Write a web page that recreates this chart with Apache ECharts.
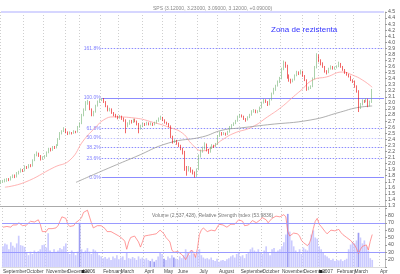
<!DOCTYPE html>
<html><head><meta charset="utf-8">
<script src="https://cdn.jsdelivr.net/npm/echarts@6.0.0/dist/echarts.min.js"></script>
<style>html,body{margin:0;padding:0;background:#fff}#c{width:400px;height:274px}</style>
</head><body><div id="c"></div>
<script>
// [open, close, low, high] — one candle per slot (about two trading days)
const ohlc = [
[1.69,1.70,1.67,1.72],[1.70,1.71,1.68,1.73],[1.71,1.72,1.69,1.75],[1.72,1.74,1.70,1.76],[1.75,1.73,1.71,1.76],
[1.73,1.77,1.72,1.79],[1.77,1.80,1.76,1.82],[1.81,1.78,1.76,1.82],[1.78,1.84,1.77,1.86],[1.84,1.86,1.82,1.88],
[1.86,1.90,1.85,1.92],[1.90,1.88,1.86,1.91],[1.88,1.95,1.87,1.97],[1.95,1.93,1.91,1.96],[1.93,1.97,1.92,1.99],
[1.98,1.96,1.94,1.99],[1.96,2.05,1.95,2.07],[2.05,2.14,2.04,2.16],[2.14,2.17,2.12,2.20],[2.17,2.13,2.11,2.18],
[2.13,2.08,2.05,2.14],[2.08,2.10,2.06,2.12],[2.10,2.12,2.08,2.14],[2.12,2.18,2.11,2.20],[2.18,2.24,2.17,2.26],
[2.24,2.22,2.20,2.26],[2.22,2.27,2.21,2.29],[2.27,2.26,2.24,2.29],[2.26,2.30,2.25,2.32],[2.30,2.40,2.29,2.42],
[2.40,2.50,2.39,2.52],[2.50,2.53,2.48,2.55],[2.53,2.57,2.52,2.60],[2.57,2.52,2.50,2.58],[2.52,2.49,2.47,2.53],
[2.49,2.51,2.48,2.53],[2.51,2.50,2.48,2.52],[2.50,2.53,2.49,2.55],[2.53,2.52,2.50,2.54],[2.52,2.60,2.51,2.62],
[2.60,2.66,2.59,2.68],[2.66,2.80,2.65,2.82],[2.80,2.88,2.78,2.91],[2.88,3.00,2.87,3.03],[3.00,3.02,2.97,3.05],
[3.02,2.90,2.88,3.03],[2.90,2.80,2.78,2.91],[2.80,2.85,2.78,2.87],[2.85,2.95,2.84,2.97],[2.95,3.02,2.94,3.04],
[3.02,3.05,3.00,3.07],[3.05,3.07,3.03,3.08],[3.07,3.02,3.00,3.08],[3.02,2.95,2.93,3.03],[2.95,2.88,2.86,2.96],
[2.88,2.90,2.86,2.92],[2.90,2.84,2.82,2.91],[2.84,2.80,2.78,2.85],[2.80,2.78,2.76,2.82],[2.78,2.76,2.73,2.79],
[2.76,2.78,2.74,2.80],[2.78,2.74,2.72,2.79],[2.74,2.72,2.69,2.76],[2.72,2.62,2.50,2.73],[2.62,2.66,2.60,2.68],
[2.66,2.70,2.64,2.72],[2.70,2.68,2.66,2.72],[2.68,2.72,2.67,2.74],[2.72,2.70,2.68,2.74],[2.70,2.66,2.63,2.71],
[2.66,2.58,2.50,2.67],[2.58,2.62,2.56,2.64],[2.62,2.66,2.60,2.68],[2.66,2.64,2.62,2.67],[2.64,2.67,2.63,2.69],
[2.67,2.65,2.63,2.68],[2.65,2.66,2.63,2.68],[2.66,2.64,2.62,2.67],[2.64,2.67,2.63,2.69],[2.67,2.70,2.66,2.72],
[2.70,2.74,2.69,2.76],[2.74,2.76,2.72,2.79],[2.76,2.72,2.70,2.77],[2.72,2.68,2.66,2.73],[2.68,2.66,2.64,2.69],
[2.66,2.62,2.60,2.67],[2.62,2.45,2.42,2.63],[2.45,2.36,2.33,2.46],[2.36,2.38,2.34,2.40],[2.38,2.34,2.31,2.39],
[2.34,2.30,2.27,2.35],[2.30,2.25,2.22,2.31],[2.25,2.20,2.15,2.26],[2.20,1.95,1.88,2.21],[1.95,1.90,1.80,1.96],
[1.90,1.93,1.87,1.96],[1.93,1.88,1.85,1.94],[1.88,1.85,1.82,1.90],[1.85,1.80,1.77,1.87],[1.80,1.90,1.78,1.92],
[1.90,2.12,1.89,2.15],[2.12,2.20,2.10,2.23],[2.20,2.25,2.18,2.28],[2.25,2.32,2.23,2.35],[2.32,2.22,2.20,2.33],
[2.22,2.20,2.16,2.24],[2.20,2.26,2.18,2.28],[2.26,2.30,2.24,2.32],[2.30,2.28,2.26,2.31],[2.28,2.32,2.27,2.34],
[2.32,2.45,2.31,2.47],[2.45,2.50,2.44,2.53],[2.50,2.48,2.46,2.52],[2.48,2.50,2.47,2.52],[2.50,2.48,2.46,2.51],
[2.48,2.52,2.47,2.54],[2.52,2.60,2.51,2.62],[2.60,2.63,2.58,2.65],[2.63,2.66,2.62,2.68],[2.66,2.70,2.65,2.72],
[2.70,2.77,2.69,2.79],[2.77,2.80,2.76,2.82],[2.80,2.78,2.76,2.81],[2.78,2.74,2.72,2.79],[2.74,2.72,2.69,2.75],
[2.72,2.76,2.71,2.78],[2.76,2.80,2.75,2.82],[2.80,2.86,2.79,2.88],[2.86,2.88,2.84,2.90],[2.88,2.85,2.83,2.89],
[2.85,2.86,2.83,2.88],[2.86,2.92,2.85,2.94],[2.92,3.00,2.91,3.02],[3.00,3.05,2.99,3.07],[3.05,3.02,3.00,3.06],
[3.02,2.97,2.95,3.03],[2.97,3.05,2.96,3.07],[3.05,3.15,3.04,3.17],[3.15,3.22,3.14,3.25],[3.22,3.28,3.20,3.30],
[3.28,3.35,3.27,3.37],[3.35,3.40,3.33,3.43],[3.40,3.55,3.39,3.58],[3.55,3.65,3.54,3.70],[3.65,3.62,3.58,3.68],
[3.62,3.45,3.40,3.63],[3.45,3.38,3.35,3.47],[3.38,3.35,3.32,3.40],[3.35,3.38,3.34,3.40],[3.38,3.45,3.37,3.47],
[3.45,3.50,3.44,3.53],[3.50,3.48,3.46,3.52],[3.48,3.52,3.47,3.55],[3.52,3.45,3.43,3.53],[3.45,3.38,3.36,3.46],
[3.38,3.22,3.20,3.39],[3.22,3.25,3.21,3.27],[3.25,3.27,3.23,3.29],[3.27,3.40,3.26,3.42],[3.40,3.58,3.39,3.61],
[3.58,3.78,3.57,3.82],[3.78,3.70,3.67,3.80],[3.70,3.65,3.62,3.72],[3.65,3.60,3.58,3.67],[3.60,3.52,3.50,3.61],
[3.52,3.50,3.47,3.54],[3.50,3.56,3.49,3.58],[3.56,3.60,3.55,3.62],[3.60,3.57,3.55,3.61],[3.57,3.58,3.55,3.60],
[3.58,3.60,3.57,3.62],[3.60,3.65,3.59,3.68],[3.65,3.60,3.58,3.66],[3.60,3.55,3.53,3.61],[3.55,3.50,3.48,3.56],
[3.50,3.47,3.45,3.51],[3.47,3.44,3.42,3.48],[3.44,3.38,3.36,3.45],[3.38,3.36,3.33,3.39],[3.36,3.28,3.25,3.37],
[3.28,3.20,3.17,3.29],[3.20,2.92,2.85,3.21],[2.92,2.98,2.90,3.00],[2.98,3.04,2.96,3.06],[3.04,3.02,3.00,3.05],
[3.02,3.06,3.01,3.08],[3.06,2.95,2.93,3.07],[2.95,3.02,2.94,3.04],[3.02,3.12,3.00,3.23]
];
const volume = [35,40,38,30,42,36,33,40,53,37,36,34,24,20,26,22,28,25,27,30,37,38,33,57,28,24,30,26,28,32,30,35,40,25,22,28,24,20,26,75,
30,25,28,32,26,22,30,28,24,20,18,15,17,14,16,12,18,15,20,13,16,18,12,24,15,14,17,15,12,18,14,16,13,15,12,10,14,9,12,18,25,22,
14,12,18,15,20,16,14,12,18,15,20,30,25,20,28,22,18,26,30,20,16,14,15,13,16,12,10,14,9,11,12,10,13,15,18,20,16,22,25,18,20,15,22,24,
30,33,28,26,30,24,22,28,35,25,20,30,32,26,28,30,35,42,55,90,60,45,35,28,25,30,22,33,30,28,40,55,62,50,48,35,30,25,20,18,
15,12,14,10,12,11,13,10,12,14,30,38,42,40,45,58,50,40,45,35,28,15,12];
const darkVolume = [39,75,77,82,87,145,181];
const rsi = [64,66,65,67,64,67,69,67,70,68,66,65,67,66,72,70,71,73,74,68,58,56,58,62,64,62,64,63,66,72,78,80,76,68,65,67,66,70,68,74,
77,84,86,87,85,70,63,62,66,68,66,67,62,58,56,58,56,55,53,52,54,48,45,34,44,50,48,52,50,44,37,44,52,50,53,52,54,52,55,57,
60,61,55,50,47,44,33,30,32,31,29,27,24,20,22,30,33,30,23,35,54,60,63,65,58,56,60,62,59,61,68,70,67,66,64,65,68,66,68,70,
74,76,72,66,64,67,70,73,74,70,71,74,77,78,74,70,72,76,78,79,77,78,80,81,78,58,52,54,56,57,55,52,46,43,45,39,42,50,62,72,
76,68,65,66,58,55,57,60,58,59,60,61,57,54,52,50,48,46,45,40,35,28,34,38,36,40,33,45,54];
// moving averages read at selected slots: [slot, value]
const maShort = [[2,1.61],[12,1.69],[27,1.94],[35,2.06],[42,2.39],[48,2.60],[52,2.72],[57,2.77],[68,2.75],[77,2.68],[85,2.60],
[92,2.50],[97,2.31],[102,2.21],[107,2.27],[112,2.39],[118,2.50],[127,2.60],[135,2.77],[142,2.93],[148,3.10],[152,3.21],
[158,3.38],[165,3.43],[173,3.51],[178,3.46],[183,3.38],[188,3.26]];
const maLong = [[38,1.69],[52,1.89],[68,2.11],[85,2.34],[102,2.44],[112,2.55],[122,2.59],[135,2.64],[157,2.72],[172,2.85],[180,2.92],[188,2.95]];
const fibLabels = ['161.8%','100.0%','61.8%','50.0%','38.2%','23.6%','0.0%'];
const fibValues = [3.90,3.08,2.58,2.42,2.27,2.08,1.77];
const fibSolid = [false,true,false,false,false,false,true];
const monthIdx = [0,12,22,33,40,51,60,72,82,89,100,110,121,132,142,153,161,170,179,192];
const monthLbl = ['September','October','November','December','2006','February','March','April','May','June','July','August','September','October','November','December','2007','February','March','Apr'];
const NSLOTS = 195;
const slots = Array.from({length: NSLOTS}, (_, i) => 'd' + i);
const FIB_START = 51;

const font = 'Arial, "Liberation Sans", sans-serif';
const chart = echarts.init(document.getElementById('c'), null, {renderer: 'canvas'});
const vline = {show: true, interval: (i) => monthIdx.includes(i), lineStyle: {color: '#cfcfcf', type: [1, 2], width: 1}};

const fibLines = fibValues.map((v, k) => [
  {coord: [FIB_START, v], lineStyle: {color: k === 3 ? '#c4c4ff' : '#8c8cff', width: 1, type: fibSolid[k] ? 'solid' : [1.5, 1.5]},
   label: {show: true, position: 'start', formatter: fibLabels[k], color: '#8080ff', fontSize: 5, fontFamily: font, distance: 1}},
  {coord: [NSLOTS - 1, v]}
]);

chart.setOption({
  animation: false,
  title: [
    {text: 'SPS (3.12000, 3.23000, 3.09000, 3.12000, +0.09000)', left: 148, top: 1, textStyle: {fontSize: 5, fontWeight: 'normal', color: '#888', fontFamily: font}},
    {text: 'Zona de rezistenta', left: 266, top: 21, textStyle: {fontSize: 8, fontWeight: 'normal', color: '#3333ff', fontFamily: font}},
    {text: 'Volume (2,537,428), Relative Strength Index (53.9836)', left: 147, top: 208, textStyle: {fontSize: 5, fontWeight: 'normal', color: '#777', fontFamily: font}}
  ],
  grid: [
    {left: -5, width: 390, top: 12, height: 194},
    {left: -5, width: 390, top: 208, height: 60}
  ],
  xAxis: [
    {type: 'category', gridIndex: 0, data: slots, boundaryGap: true,
     axisLine: {show: true, lineStyle: {color: '#aaa', width: 1}}, axisTick: {show: false}, axisLabel: {show: false}, splitLine: vline},
    {type: 'category', gridIndex: 1, data: slots, boundaryGap: true,
     axisLine: {show: true, lineStyle: {color: '#ddd', width: 1}}, axisTick: {show: false},
     axisLabel: {show: true, showMinLabel: true, hideOverlap: false, interval: (i) => monthIdx.includes(i), align: 'left', margin: 2, fontSize: 4.8, color: '#444', fontFamily: font,
       formatter: (v, i) => { const l = monthLbl[monthIdx.indexOf(i)]; return /^\d{4}$/.test(l) ? '{sq| }' + l : l; },
       rich: {sq: {backgroundColor: '#222', width: 3, height: 3, fontSize: 3}}},
     splitLine: vline}
  ],
  yAxis: [
    {type: 'value', gridIndex: 0, position: 'right', min: 1.3, max: 4.5, interval: 0.1,
     axisLine: {show: true, lineStyle: {color: '#bbb'}}, axisTick: {show: true, length: 2, lineStyle: {color: '#999'}},
     axisLabel: {fontSize: 5.2, color: '#555', margin: 3, fontFamily: font, formatter: (v) => v.toFixed(1)}, splitLine: {show: false}},
    {type: 'value', gridIndex: 1, position: 'right', min: 10, max: 90, interval: 10,
     axisLine: {show: true, lineStyle: {color: '#bbb'}}, axisTick: {show: true, length: 2, lineStyle: {color: '#999'}},
     axisLabel: {fontSize: 5.2, color: '#555', margin: 3, fontFamily: font, formatter: (v) => (v === 10 || v === 90) ? '' : String(v)}, splitLine: {show: false}},
    {type: 'value', gridIndex: 1, min: 0, max: 100, show: false, splitLine: {show: false}}
  ],
  series: [
    {type: 'bar', xAxisIndex: 1, yAxisIndex: 2, barCategoryGap: '15%', z: 1,
     data: volume.map((v, i) => ({value: v, itemStyle: {color: darkVolume.includes(i) ? '#9c9cf2' : '#cbcbff'}}))},
    {type: 'line', xAxisIndex: 1, yAxisIndex: 1, data: rsi, symbol: 'none', z: 3,
     lineStyle: {color: '#ff7070', width: 0.7},
     markLine: {silent: true, symbol: ['none', 'none'], label: {show: false},
       lineStyle: {color: '#9a9aff', width: 1, type: 'solid'}, data: [{yAxis: 70}, {yAxis: 30}]}},
    {type: 'line', xAxisIndex: 0, yAxisIndex: 0, data: maShort, symbol: 'none', smooth: true, z: 2,
     lineStyle: {color: '#ffa0a0', width: 0.8}},
    {type: 'line', xAxisIndex: 0, yAxisIndex: 0, data: maLong, symbol: 'none', smooth: true, z: 2,
     lineStyle: {color: '#9a9a9a', width: 0.8}},
    {type: 'candlestick', xAxisIndex: 0, yAxisIndex: 0, data: ohlc, barWidth: 1.3, z: 4,
     itemStyle: {color: '#74b474', color0: '#e80000', borderColor: '#74b474', borderColor0: '#e80000', borderWidth: 0.6},
     markLine: {silent: true, symbol: ['none', 'none'], z: 1,
       data: [[{coord: [0, 4.5], lineStyle: {color: '#d6d6ff', width: 2, type: 'solid'}, label: {show: false}}, {coord: [NSLOTS - 1, 4.5]}]].concat(fibLines)}}
  ]
});
</script>
</body></html>
